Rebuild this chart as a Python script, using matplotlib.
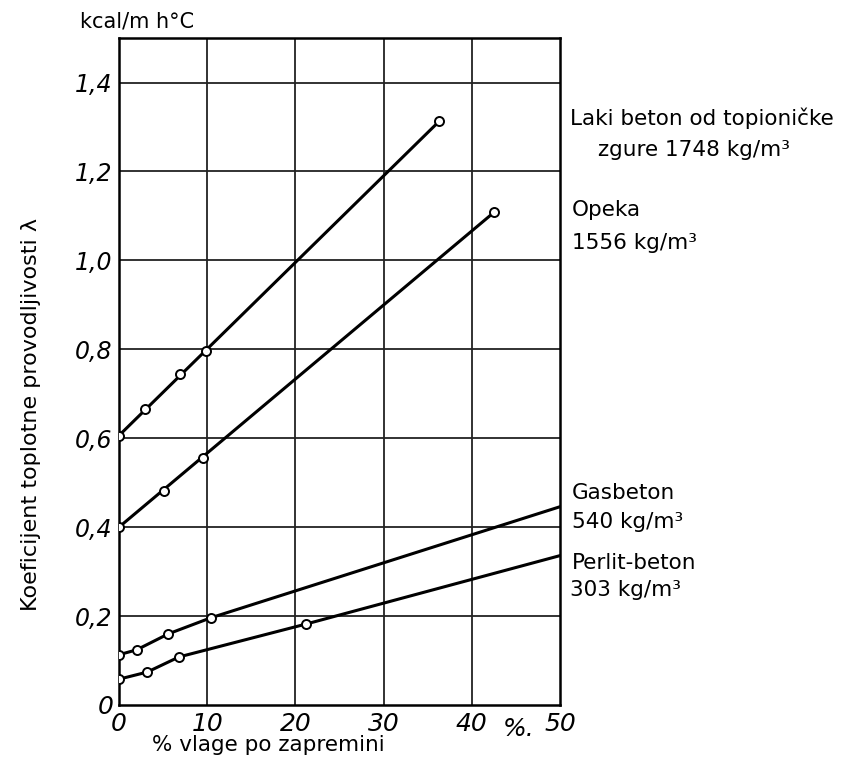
import matplotlib
matplotlib.use("Agg")
import matplotlib.pyplot as plt

# ---- data ----
laki_x = [0, 2.9, 6.9, 9.9, 36.3]
laki_y = [0.606, 0.665, 0.745, 0.797, 1.313]

opeka_x = [0, 5.1, 9.5, 42.5]
opeka_y = [0.40, 0.482, 0.556, 1.108]

gas_x = [0, 2.0, 5.6, 10.4]
gas_y = [0.113, 0.124, 0.16, 0.196]
gas_end = (50, 0.446)

perlit_x = [0, 3.2, 6.8, 21.2]
perlit_y = [0.058, 0.074, 0.108, 0.182]
perlit_end = (50, 0.336)

x_ticks = [0, 10, 20, 30, 40, 50]
x_labels = ["0", "10", "20", "30", "40", "50"]
y_ticks = [0.2, 0.4, 0.6, 0.8, 1.0, 1.2, 1.4]
y_labels = ["0,2", "0,4", "0,6", "0,8", "1,0", "1,2", "1,4"]

fig = plt.figure(figsize=(8.5, 7.8), dpi=100)
ax = fig.add_axes([0.14, 0.0962, 0.519, 0.855])

ax.set_xlim(0, 50)
ax.set_ylim(0, 1.5)

# grid
for xv in x_ticks[1:-1]:
    ax.axvline(xv, color="#222222", lw=1.3, zorder=1)
for yv in y_ticks:
    ax.axhline(yv, color="#222222", lw=1.3, zorder=1)

for s in ax.spines.values():
    s.set_linewidth(1.8)

mk = dict(marker="o", ms=6.5, mfc="white", mec="black", mew=1.4, ls="none", zorder=4)

# the two upper lines are straight between first and last point
ax.plot([laki_x[0], laki_x[-1]], [laki_y[0], laki_y[-1]], color="black", lw=2.2, zorder=3)
ax.plot(laki_x, laki_y, **mk)
ax.plot([opeka_x[0], opeka_x[-1]], [opeka_y[0], opeka_y[-1]], color="black", lw=2.2, zorder=3)
ax.plot(opeka_x, opeka_y, **mk)

ax.plot(gas_x + [gas_end[0]], gas_y + [gas_end[1]], color="black", lw=2.2, zorder=3)
ax.plot(gas_x, gas_y, **mk)
ax.plot(perlit_x + [perlit_end[0]], perlit_y + [perlit_end[1]], color="black", lw=2.2, zorder=3)
ax.plot(perlit_x, perlit_y, **mk)

ax.set_xticks(x_ticks)
ax.set_xticklabels(x_labels, fontsize=18, style="italic")
ax.set_yticks(y_ticks)
ax.set_yticklabels(y_labels, fontsize=17, style="italic")
ax.tick_params(length=0, pad=5)
ax.text(-0.6, -0.005, "0", fontsize=18, style="italic", ha="right", va="center")
ax.text(45.3, -0.055, "%.", fontsize=18, style="italic", ha="center", va="center")

fig.text(0.094, 0.985, "kcal/m h°C", fontsize=15, ha="left", va="top")
fig.text(0.036, 0.468, "Koeficijent toplotne provodljivosti λ", fontsize=16,
         rotation=90, ha="center", va="center")
fig.text(0.316, 0.045, "% vlage po zapremini", fontsize=15.5, ha="center", va="center")

fs = 15.5
fig.text(0.670, 0.849, "Laki beton od topioničke", fontsize=fs, ha="left", va="center")
fig.text(0.703, 0.808, "zgure 1748 kg/m³", fontsize=fs, ha="left", va="center")
fig.text(0.673, 0.731, "Opeka", fontsize=fs, ha="left", va="center")
fig.text(0.673, 0.689, "1556 kg/m³", fontsize=fs, ha="left", va="center")
fig.text(0.673, 0.368, "Gasbeton", fontsize=fs, ha="left", va="center")
fig.text(0.673, 0.331, "540 kg/m³", fontsize=fs, ha="left", va="center")
fig.text(0.673, 0.278, "Perlit-beton", fontsize=fs, ha="left", va="center")
fig.text(0.670, 0.244, "303 kg/m³", fontsize=fs, ha="left", va="center")

fig.savefig("out.png", dpi=100, facecolor="white")
